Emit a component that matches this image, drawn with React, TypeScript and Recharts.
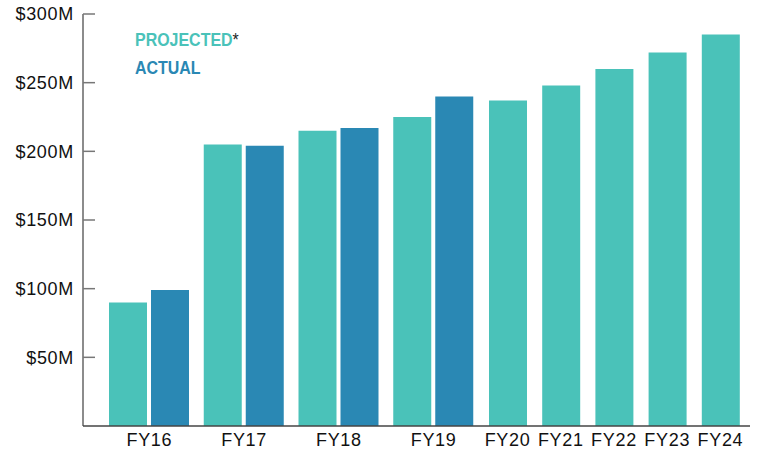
import React from 'react';
import { BarChart, Bar, XAxis, YAxis } from 'recharts';

// FY16–FY19: projected and actual (in $M)
const groupYears = ['FY16', 'FY17', 'FY18', 'FY19'];
const groupProjected = [90, 205, 215, 225];
const groupActual = [99, 204, 217, 240];

// FY20–FY24: projected only (in $M)
const laterYears = ['FY20', 'FY21', 'FY22', 'FY23', 'FY24'];
const laterProjected = [237, 248, 260, 272, 285];

const yTicks = [50, 100, 150, 200, 250, 300];

const TEAL = '#4AC2B9';
const BLUE = '#2A88B4';
const FONT = '"Liberation Sans", Arial, Helvetica, sans-serif';

const groupData = groupYears.map((y, i) => ({ year: y, projected: groupProjected[i], actual: groupActual[i] }));
const laterData = laterYears.map((y, i) => ({ year: y, projected: laterProjected[i] }));

const fmt = (v: number) => `$${v}M`;

const tickStyle = { fontSize: 18, fill: '#111', fontFamily: FONT, letterSpacing: 0.7 };

const LegendBox = () => (
  <div
    style={{
      position: 'absolute',
      left: 135,
      top: 26,
      fontFamily: FONT,
      fontWeight: 700,
      fontSize: 19,
      lineHeight: '28px',
      transform: 'scaleX(0.84)',
      transformOrigin: 'left top',
      whiteSpace: 'nowrap',
    }}
  >
    <div style={{ color: TEAL }}>
      PROJECTED<span style={{ color: '#222', fontWeight: 400 }}>*</span>
    </div>
    <div style={{ color: BLUE }}>ACTUAL</div>
  </div>
);

export default function App() {
  return (
    <div style={{ position: 'fixed', left: 0, top: 0, width: 757, height: 451, background: '#fff' }}>
      <div style={{ position: 'absolute', left: 0, top: 0 }}>
        <BarChart
          width={481}
          height={451}
          data={groupData}
          margin={{ top: 14, right: 0, left: 0, bottom: 0 }}
          barSize={38}
          barGap={4}
        >
          <YAxis
            domain={[0, 300]}
            ticks={yTicks}
            tickFormatter={fmt}
            width={83}
            tickSize={-12}
            tickMargin={21}
            axisLine={{ stroke: '#666', strokeWidth: 1.5 }}
            tickLine={{ stroke: '#777', strokeWidth: 1.5 }}
            tick={tickStyle}
            interval={0}
          />
          <XAxis
            dataKey="year"
            height={25}
            padding={{ left: 19, right: 0 }}
            tickSize={0}
            tickMargin={7}
            tickLine={false}
            axisLine={{ stroke: '#444', strokeWidth: 1.5 }}
            tick={tickStyle}
            interval={0}
          />
          <Bar dataKey="projected" fill={TEAL} isAnimationActive={false} />
          <Bar dataKey="actual" fill={BLUE} isAnimationActive={false} />
        </BarChart>
      </div>
      <div style={{ position: 'absolute', left: 481, top: 0 }}>
        <BarChart
          width={276}
          height={451}
          data={laterData}
          margin={{ top: 14, right: 7, left: 0, bottom: 0 }}
          barSize={38}
        >
          <YAxis hide domain={[0, 300]} ticks={yTicks} />
          <XAxis
            dataKey="year"
            height={25}
            padding={{ left: 0, right: 3 }}
            tickSize={0}
            tickMargin={7}
            tickLine={false}
            axisLine={{ stroke: '#444', strokeWidth: 1.5 }}
            tick={tickStyle}
            interval={0}
          />
          <Bar dataKey="projected" fill={TEAL} isAnimationActive={false} />
        </BarChart>
      </div>
      <LegendBox />
    </div>
  );
}
